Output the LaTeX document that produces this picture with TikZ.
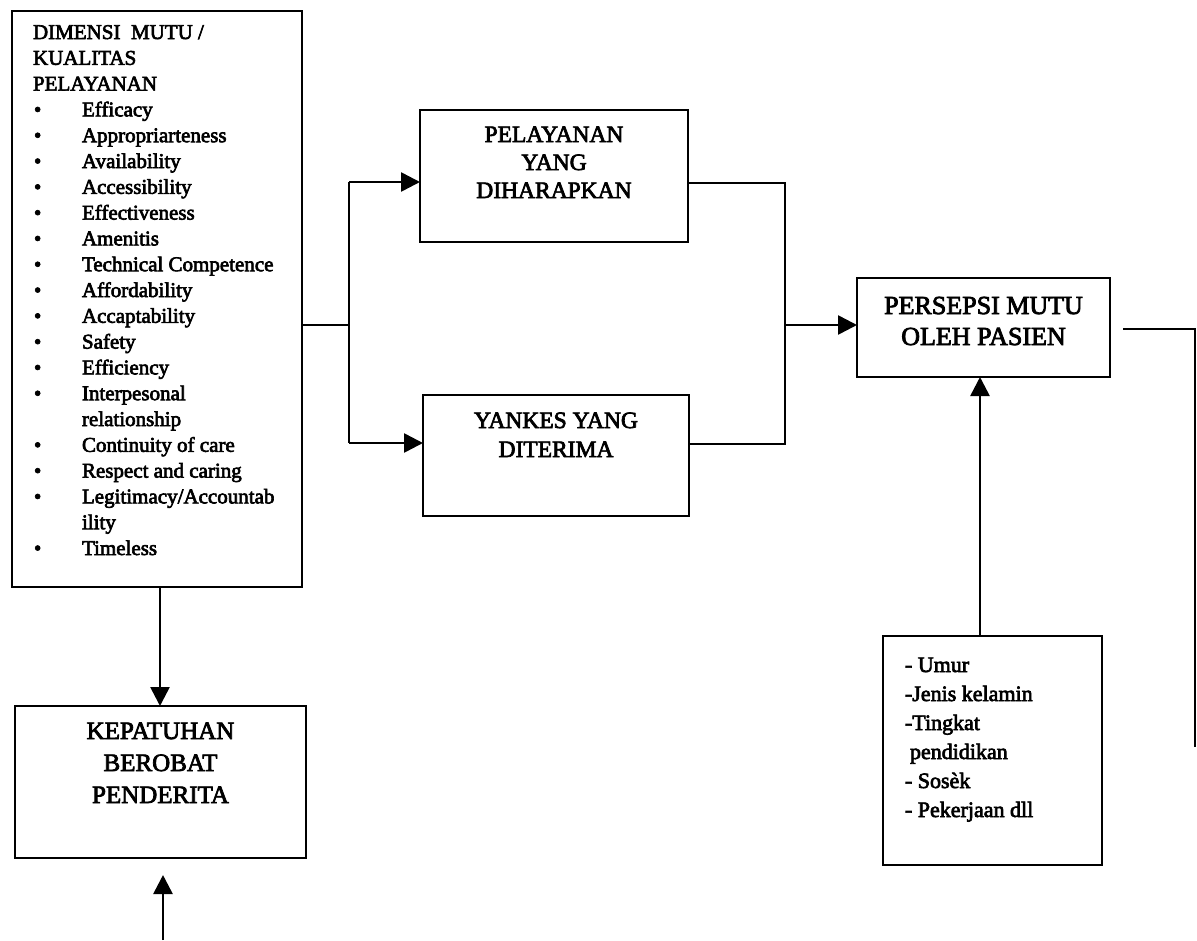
\documentclass[tikz,border=0pt]{standalone}
\usepackage{fontspec}
\setmainfont{Liberation Serif}[FakeBold=3]
\usetikzlibrary{arrows.meta}
\newcommand{\itm}[1]{\makebox[49pt][l]{\hspace{1pt}\textbullet}#1}
\newcommand{\cnt}[1]{\hspace*{49pt}#1}
\begin{document}
\begin{tikzpicture}[x=1pt,y=-1pt,line width=2.6pt,
  box/.style={draw,rectangle,inner sep=0pt,outer sep=0pt,anchor=north west},
  arr/.style={-{Triangle[length=19pt,width=19pt]}}]
\useasboundingbox (0,0) rectangle (1197,940);

\node[box] (dim) at (12,11) {\parbox[c][576pt][t]{290pt}{\hspace*{21pt}\parbox[t]{265pt}{\fontsize{21pt}{25.8pt}\selectfont\raggedright
\rule{0pt}{28pt}DIMENSI\ \ MUTU /\\
KUALITAS\\
PELAYANAN\\
\itm{Efficacy}\\
\itm{Appropriarteness}\\
\itm{Availability}\\
\itm{Accessibility}\\
\itm{Effectiveness}\\
\itm{Amenitis}\\
\itm{Technical Competence}\\
\itm{Affordability}\\
\itm{Accaptability}\\
\itm{Safety}\\
\itm{Efficiency}\\
\itm{Interpesonal}\\
\cnt{relationship}\\
\itm{Continuity of care}\\
\itm{Respect and caring}\\
\itm{Legitimacy/Accountab}\\
\cnt{ility}\\
\itm{Timeless}}}};

\node[box] (pel) at (420,110) {\parbox[c][132pt][t]{268pt}{\centering\fontsize{23.5pt}{28pt}\selectfont
\rule{0pt}{32pt}PELAYANAN\\ YANG\\ DIHARAPKAN}};

\node[box] (yan) at (423,395) {\parbox[c][121pt][t]{266pt}{\centering\fontsize{23.5pt}{29pt}\selectfont
\rule{0pt}{33pt}YANKES YANG\\ DITERIMA}};

\node[box] (per) at (857,278) {\parbox[c][99pt][t]{253pt}{\centering\fontsize{26pt}{31pt}\selectfont
\rule{0pt}{36pt}PERSEPSI MUTU\\ OLEH PASIEN}};

\node[box] (kep) at (15,706) {\parbox[c][152pt][t]{291pt}{\centering\fontsize{25pt}{32pt}\selectfont
\rule{0pt}{33pt}KEPATUHAN\\ BEROBAT\\ PENDERITA}};

\node[box] (umur) at (883,636) {\parbox[c][229pt][t]{219pt}{\hspace*{22pt}\parbox[t]{195pt}{\fontsize{22pt}{29pt}\selectfont\raggedright
\rule{0pt}{36pt}- Umur\\
-Jenis kelamin\\
-Tingkat\\
\hspace*{5pt}pendidikan\\
- Sosèk\\
- Pekerjaan dll}}};

\coordinate (jl) at (349,325);
\coordinate (jt) at (349,182);
\coordinate (jb) at (349,443);
\coordinate (rt) at (785,183);
\coordinate (rb) at (785,444);
\coordinate (rm) at (785,325);
\coordinate (kx) at (160,0);
\coordinate (ux) at (980,0);
\coordinate (bs) at (163,940);
\coordinate (be) at (163,875);
\coordinate (fs) at (1123,329);
\coordinate (fc) at (1195,329);
\coordinate (fe) at (1195,747);

\draw (jl -| dim.east) -- (jl);
\draw (jt) -- (jb);
\draw[arr] (jt) -- (jt -| pel.west);
\draw[arr] (jb) -- (jb -| yan.west);
\draw (rt -| pel.east) -- (rt) -- (rb) -- (rb -| yan.east);
\draw[arr] (rm) -- (rm -| per.west);
\draw[arr] (umur.north -| ux) -- (per.south -| ux);
\draw[arr] (dim.south -| kx) -- (kep.north -| kx);
\draw[arr] (bs) -- (be);
\draw (fs) -- (fc) -- (fe);
\end{tikzpicture}
\end{document}
